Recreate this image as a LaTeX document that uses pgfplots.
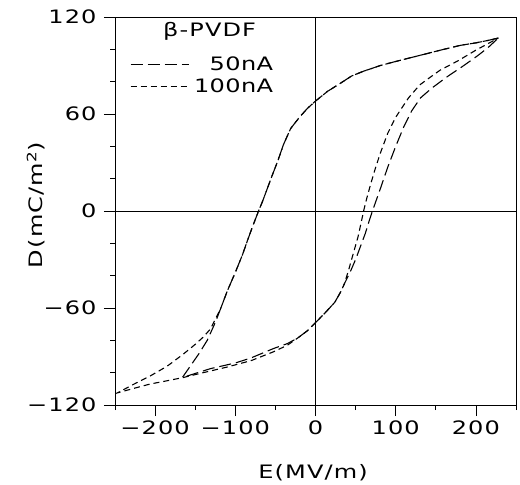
\documentclass[border=0pt]{standalone}
\usepackage{fontspec}
\setmainfont{DejaVu Sans}[FakeStretch=1.3, LetterSpace=6]
\usepackage{pgfplots}
\pgfplotsset{compat=1.18}
\newcommand{\myfont}{\fontsize{18.5bp}{22bp}\selectfont}
\begin{document}
\begin{tikzpicture}
\begin{axis}[
  scale only axis,
  width=401bp, height=388bp,
  xmin=-250, xmax=250, ymin=-120, ymax=120,
  xtick={-200,-100,0,100,200},
  xticklabels={−200,−100,0,100,200},
  minor xtick={-250,-150,-50,50,150,250},
  ytick={-120,-60,0,60,120},
  yticklabels={−120,−60,0,60,120},
  minor ytick={-100,-80,-40,-20,20,40,80,100},
  tick align=outside, tick pos=left,
  major tick length=11bp, minor tick length=5bp,
  every tick/.style={black, line width=0.8pt},
  axis line style={black, line width=0.9pt},
  tick label style={font=\myfont},
  yticklabel style={xshift=-4bp},
  xticklabel style={yshift=-1bp},
  label style={font=\myfont},
  xlabel={E(MV/m)},
  ylabel={D(mC/m\textsuperscript{2})},
  xlabel style={at={(axis description cs:0.494,-0.175)}, anchor=center},
  ylabel style={at={(axis description cs:-0.197,0.515)}, anchor=center},
  legend style={draw=none, fill=none, font=\myfont\addfontfeature{LetterSpace=2}, at={(0.037,0.85)}, anchor=west,
    row sep=5bp, inner sep=0pt, nodes={inner sep=1bp}},
  legend cell align=right,
  legend image code/.code={\draw[#1] (0bp,0bp) -- (58bp,0bp);},
]
\addplot[black, line width=0.6pt, forget plot] coordinates {(0,-120) (0,120)};
\addplot[black, line width=0.6pt, forget plot] coordinates {(-250,0) (250,0)};
% 50 nA (long dashes)
\addplot[black, line width=1.1pt, dash pattern=on 12bp off 5bp] coordinates {
(228,107) (215,105.5) (200,104) (181,102.5) (160,100) (140,97.5) (120,95) (100,92.5)
(81,90) (60,86.5) (45,83.5) (31,79) (15,74) (0,68) (-10,63.5) (-20,58) (-31,51)
(-40,41) (-47,31) (-54,22) (-60,14) (-66,6) (-71,0) (-78,-9) (-85,-18.5) (-91,-27)
(-100,-38) (-110,-49.5) (-118,-60) (-125,-69) (-135,-80) (-145,-88) (-152,-93) (-166,-103)
(-150,-100.5) (-131,-97.5) (-100,-94) (-81,-91) (-52,-85) (-35,-82) (-22,-78.5) (-10,-74)
(0,-69) (12,-63) (24,-56.5) (32,-49.5) (36,-45) (43,-38) (50,-30) (56,-22) (62,-14)
(67,-6) (71,0) (76,7) (81,14) (90,27) (100,40) (110,52) (120,62) (131,70) (145,76)
(164,83) (185,90) (202,96) (215,101) (228,107)
};
\addlegendentry{\makebox[83bp][r]{50nA}}
% 100 nA (short dashes)
\addplot[black, line width=1.1pt, dash pattern=on 6bp off 4bp] coordinates {
(228,107) (215,105.5) (200,104) (181,102.5) (160,100) (140,97.5) (120,95) (100,92.5)
(81,90) (60,86.5) (45,83.5) (31,79) (15,74) (0,68) (-10,63.5) (-20,58) (-31,51)
(-40,41) (-47,31) (-54,22) (-60,14) (-66,6) (-71,0) (-78,-9) (-85,-18.5) (-91,-27)
(-100,-38) (-110,-49.5) (-118,-60) (-125,-67) (-131,-73) (-140,-78) (-150,-82.5)
(-165,-88.6) (-185,-96) (-206,-102) (-228,-107.5) (-247,-112.5)
(-225,-109.5) (-206,-107) (-185,-105) (-165,-103) (-140,-100) (-110,-96.5) (-80,-92.5)
(-52,-87) (-35,-83) (-22,-78.5) (-10,-74) (0,-69) (12,-63) (24,-56.5) (32,-49.5) (36,-45)
(41,-37) (45,-30) (49,-23) (53,-16) (57,-7) (60,0) (64,8) (69,17) (75,27) (81,36)
(90,48) (100,58) (116,70) (130,78) (141,82) (155,87) (178,93) (200,99.5) (215,103.5) (228,107)
};
\addlegendentry{\makebox[83bp][r]{100nA}}
\node[font=\myfont] at (axis cs:-132,111) {β-PVDF};
\end{axis}
\pgfresetboundingbox
\path ([shift={(-115bp,-79bp)}]current axis.south west) rectangle ([shift={(4bp,17bp)}]current axis.north east);
\end{tikzpicture}
\end{document}
